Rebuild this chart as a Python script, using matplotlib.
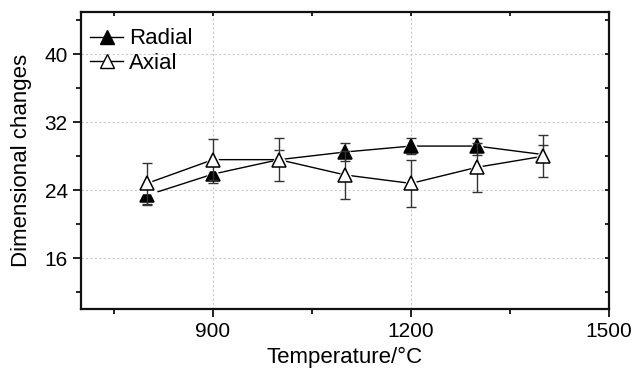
import matplotlib
matplotlib.use("Agg")
import matplotlib.pyplot as plt
from matplotlib.lines import Line2D
import matplotlib.lines as mlines

plt.rcParams['font.family'] = ['Liberation Sans', 'DejaVu Sans']

temperature = [800, 900, 1000, 1100, 1200, 1300, 1400]
radial = [23.4, 25.9, 27.6, 28.5, 29.2, 29.2, 28.2]
radial_err = [1.2, 1.0, 1.1, 1.1, 0.9, 1.0, 1.1]
axial = [24.8, 27.6, 27.6, 25.8, 24.8, 26.7, 28.0]
axial_err = [2.4, 2.4, 2.5, 2.8, 2.8, 2.9, 2.5]

fig = plt.figure(figsize=(6.31, 3.71), dpi=100)
ax = fig.add_axes([81/631, 1-309/371, (609-81)/631, (309-12)/371])

ms = 10
for vals, errs, face, z in [(radial, radial_err, 'black', 4),
                            (axial, axial_err, 'white', 6)]:
    ax.plot(temperature, vals, color='black', lw=1.0, zorder=2)
    ax.plot(temperature, vals, ls='none', marker='^', ms=ms + 5, mfc='white',
            mec='white', zorder=z - 1)
    ax.errorbar(temperature, vals, yerr=errs, fmt='none', ecolor='#333333',
                elinewidth=1.0, capsize=3.5, capthick=1.0, zorder=z - 0.5)
    ax.plot(temperature, vals, ls='none', marker='^', ms=ms, mfc=face,
            mec='black', mew=1.1, zorder=z)

handles = [Line2D([], [], color='black', lw=1.0, marker='^', ms=ms, mfc='black', mec='black'),
           Line2D([], [], color='black', lw=1.0, marker='^', ms=ms, mfc='white', mec='black')]
ax.legend(handles, ['Radial', 'Axial'], loc='upper left', frameon=False,
          fontsize=16, handlelength=1.5, handletextpad=0.25, labelspacing=0.15,
          borderaxespad=0.0, bbox_to_anchor=(0.0, 0.975))

ax.set_xlim(700, 1500)
ax.set_ylim(10, 45)
ax.set_xticks([900, 1200, 1500])
ax.set_xticks([750, 1050, 1350], minor=True)
ax.set_yticks([16, 24, 32, 40])
ax.set_yticks([12, 20, 28, 36, 44], minor=True)

ax.grid(True, which='major', color='#c8c8c8', ls=(0, (2, 2)), lw=0.8)
ax.set_axisbelow(True)

for s in ax.spines.values():
    s.set_linewidth(1.6)
    s.set_color('#111111')

ax.tick_params(axis='both', which='major', direction='out', length=5.5, width=1.3,
               labelsize=15, pad=4, top=True, right=True, color='#111111')
ax.tick_params(axis='both', which='minor', direction='out', length=3.5, width=1.3,
               top=True, right=True, color='#111111')
ax.xaxis.set_tick_params(which='both', labeltop=False)
ax.yaxis.set_tick_params(which='both', labelright=False)
for t in ax.xaxis.get_major_ticks() + ax.xaxis.get_minor_ticks():
    t.tick2line.set_marker(mlines.TICKDOWN)
    t.tick2line.set_markersize(3)
for t in ax.yaxis.get_major_ticks() + ax.yaxis.get_minor_ticks():
    t.tick2line.set_marker(mlines.TICKLEFT)
    t.tick2line.set_markersize(3)

ax.set_xlabel('Temperature/°C', fontsize=16, labelpad=4)
ax.set_ylabel('Dimensional changes', fontsize=16, labelpad=9)

fig.savefig('out.png', dpi=100)
